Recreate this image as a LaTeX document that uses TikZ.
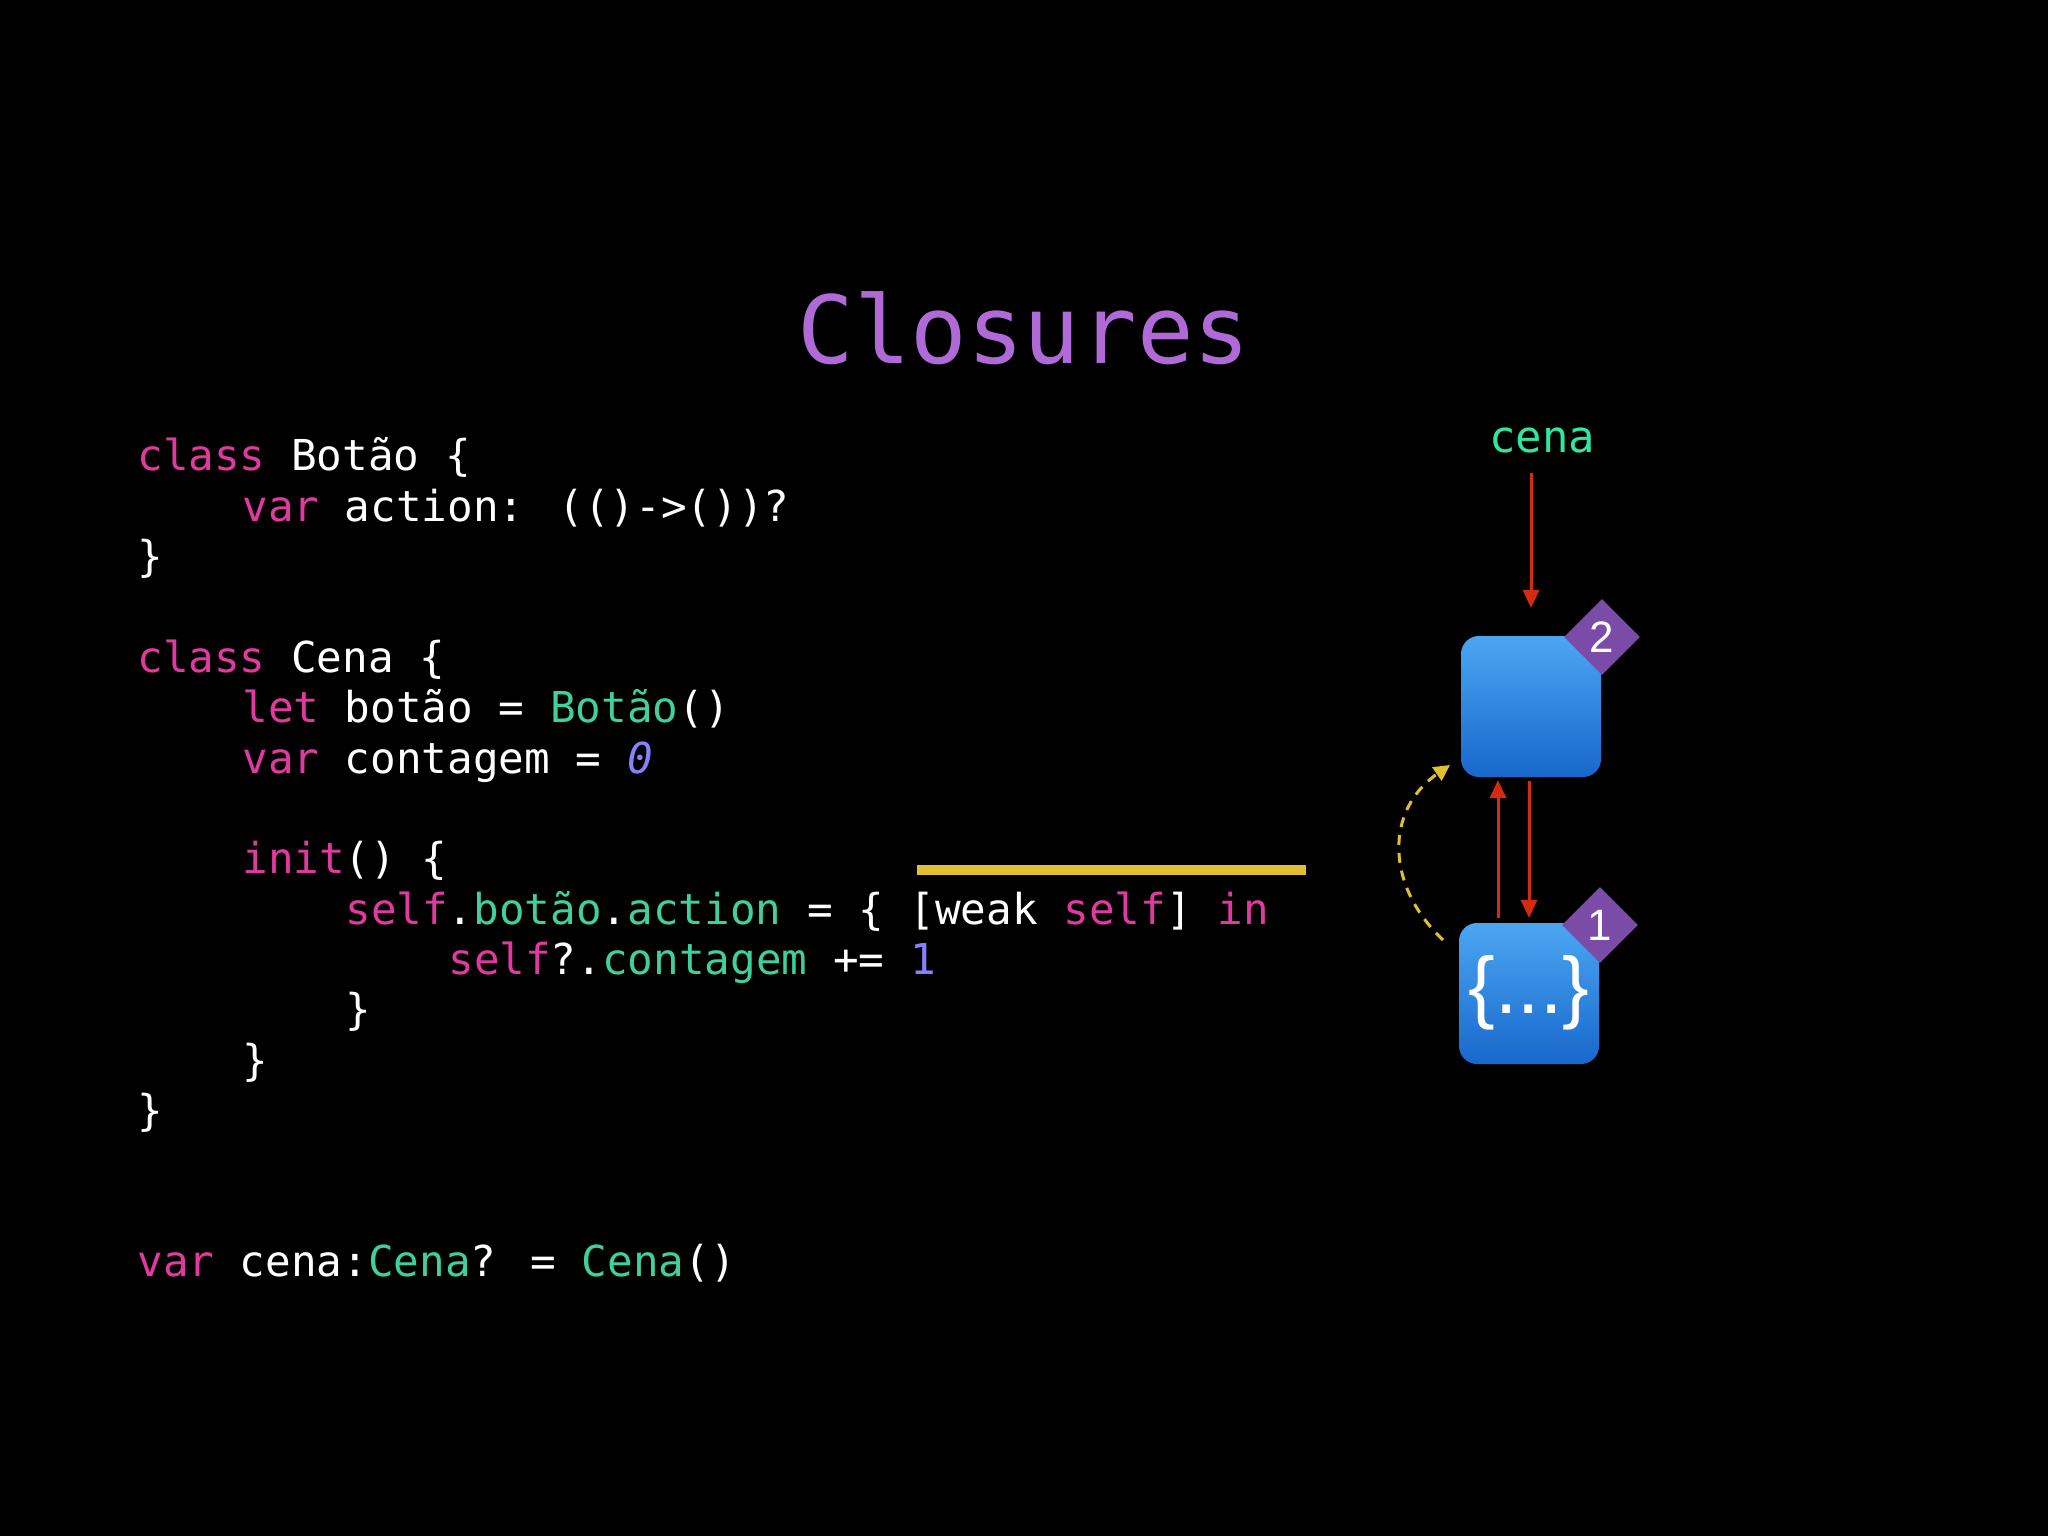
\documentclass[tikz,border=0pt]{standalone}
\usepackage{fontspec}
\usetikzlibrary{shapes.geometric,arrows.meta}
\newfontfamily\mono{DejaVu Sans Mono}
\newfontfamily\sansf{Liberation Sans}
\definecolor{kw}{HTML}{E0399F}
\definecolor{gr}{HTML}{3FCFA0}
\definecolor{nm}{HTML}{8A80FF}
\definecolor{tt}{HTML}{B06AD8}
\definecolor{cn}{HTML}{2EE8A0}
\definecolor{rd}{HTML}{D42A10}
\definecolor{yl}{HTML}{E0C030}
\definecolor{btop}{HTML}{4BA6F2}
\definecolor{bbot}{HTML}{1868CC}
\definecolor{dm}{HTML}{7A4CA8}
\newcommand{\K}[1]{\textcolor{kw}{#1}}
\newcommand{\G}[1]{\textcolor{gr}{#1}}
\newcommand{\N}[1]{\textcolor{nm}{#1}}
\begin{document}
\begin{tikzpicture}[x=0.5pt,y=-0.5pt,
  code/.style={anchor=base west,inner sep=0,text=white,font=\mono\fontsize{21.3}{24}\selectfont},
  obox/.style={rounded corners=9pt,top color=btop,bottom color=bbot,draw=none},
  badge/.style={diamond,fill=dm,minimum size=38pt,inner sep=0,text=white,font=\sansf\fontsize{22}{24}\selectfont},
  ref/.style={draw=rd,line width=1.5pt,-{Triangle[length=9pt,width=8pt]}}]
\fill[black] (0,0) rectangle (2048,1536);
\useasboundingbox (0,0) rectangle (2048,1536);
\node[anchor=base,text=tt,font=\mono\fontsize{47}{50}\selectfont] (title) at (1024,363) {Closures};
\node[code] (l1) at (137,470) {\K{class} Botão \{};
\node[code] (l2) at (242,521) {\K{var} action: (()->())?};
\node[code] (l3) at (137,571) {\}};
\node[code] (l4) at (137,672) {\K{class} Cena \{};
\node[code] (l5) at (242,722) {\K{let} botão = \G{Botão}()};
\node[code] (l6) at (242,773) {\K{var} contagem = \N{\itshape 0}};
\node[code] (l7) at (242,873) {\K{init}() \{};
\node[code] (l8) at (345,924) {\K{self}.\G{botão}.\G{action} = \{ [weak \K{self}] \K{in}};
\node[code] (l9) at (448,974) {\K{self}?.\G{contagem} += \N{1}};
\node[code] (l10) at (345,1024) {\}};
\node[code] (l11) at (242,1075) {\}};
\node[code] (l12) at (137,1125) {\}};
\node[code] (l13) at (137,1276) {\K{var} cena:\G{Cena}? = \G{Cena}()};
\fill[yl] (917,865) rectangle (1306,875);
\node[text=cn,font=\mono\fontsize{22}{24}\selectfont] (cena) at (1542,440) {cena};
\path[obox] (1461,636) rectangle (1601,777);
\path[obox] (1459,923) rectangle (1599,1064);
\node[text=white,font=\sansf\fontsize{40}{44}\selectfont] (b1) at (1529,993) {\{...\}};
\node[badge] (d2) at (1602,637) {2};
\node[badge] (d1) at (1600,925) {1};
\coordinate (c0) at (1531,473);
\coordinate (c1) at (1531,608);
\draw[ref] (c0) -- (c1);
\coordinate (u0) at (1498,918);
\coordinate (u1) at (1498,780);
\draw[ref] (u0) -- (u1);
\coordinate (v0) at (1529,781);
\coordinate (v1) at (1529,918);
\draw[ref] (v0) -- (v1);
\coordinate (y0) at (1443,940);
\coordinate (y1) at (1450,765);
\draw[draw=yl,line width=1.5pt,dash pattern=on 5pt off 4pt,-{Triangle[length=8pt,width=8pt]}] (y0) .. controls (1385,885) and (1385,810) .. (y1);
\end{tikzpicture}
\end{document}
